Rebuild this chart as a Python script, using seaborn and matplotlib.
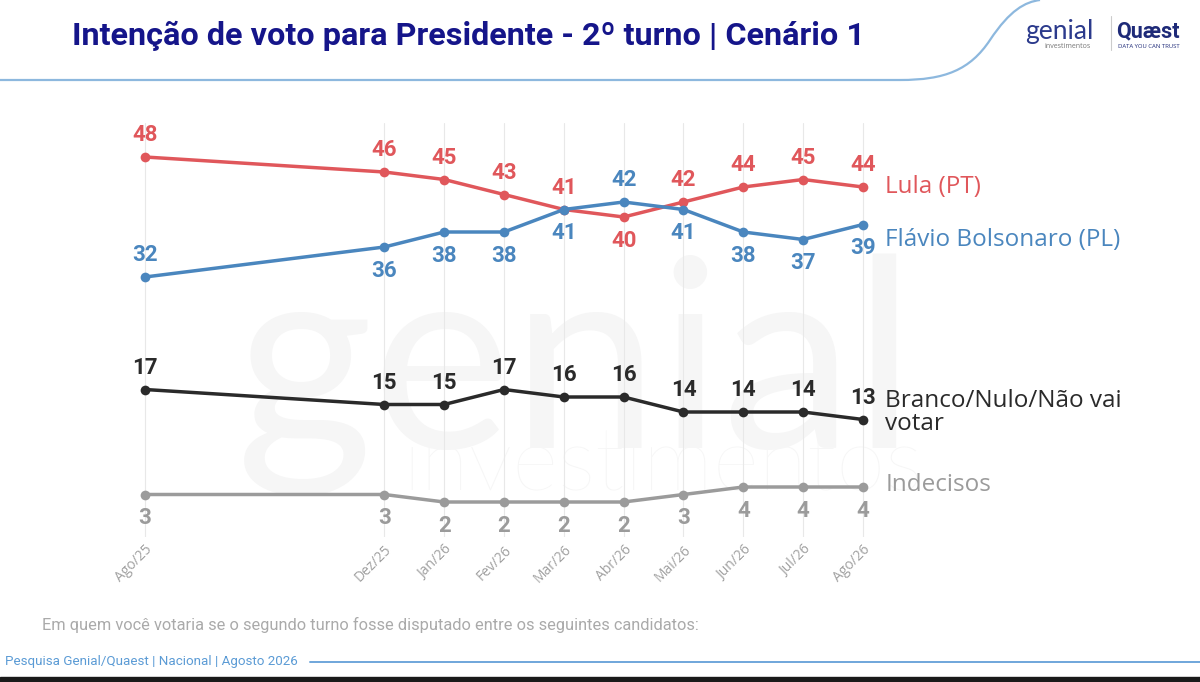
import numpy as np
import pandas as pd
import matplotlib.pyplot as plt
import seaborn as sns
from matplotlib.path import Path
from matplotlib.patches import PathPatch, Rectangle

# dados
meses = ['Ago/25', 'Dez/25', 'Jan/26', 'Fev/26', 'Mar/26', 'Abr/26',
         'Mai/26', 'Jun/26', 'Jul/26', 'Ago/26']
posicao = [0, 4, 5, 6, 7, 8, 9, 10, 11, 12]  # meses desde Ago/25
lula = [48, 46, 45, 43, 41, 40, 42, 44, 45, 44]
flavio = [32, 36, 38, 38, 41, 42, 41, 38, 37, 39]
branco = [17, 15, 15, 17, 16, 16, 14, 14, 14, 13]
indecisos = [3, 3, 2, 2, 2, 2, 3, 4, 4, 4]

series = ['Lula', 'Flavio', 'Branco', 'Indecisos']
nomes = ['Lula (PT)', 'Flávio Bolsonaro (PL)', 'Branco/Nulo/Não vai\nvotar', 'Indecisos']
cores = {'Lula': '#E0575B', 'Flavio': '#4A86BE', 'Branco': '#2A2A2A', 'Indecisos': '#9B9B9B'}

df = pd.DataFrame({
    'mes': meses * 4,
    'pos': posicao * 4,
    'valor': lula + flavio + branco + indecisos,
    'serie': np.repeat(series, len(meses)),
})

sns.set_style('white')
plt.rcParams['font.family'] = ['Open Sans', 'DejaVu Sans']

fig = plt.figure(figsize=(12, 6.82), dpi=100)

# camada de fundo em pixels (cabeçalho, marca d'água, rodapé)
bg = fig.add_axes([0, 0, 1, 1], zorder=0)
bg.set_xlim(0, 1200)
bg.set_ylim(682, 0)
bg.axis('off')

bg.text(236, 448, 'genial', fontsize=190, color='#F6F6F6', family='Lato',
        va='baseline', ha='left')
bg.text(402, 490, 'investimentos', fontsize=64, color='#F6F6F6', family='Lato',
        va='baseline', ha='left', fontweight='light')

bg.text(72, 36, 'Intenção de voto para Presidente - 2º turno | Cenário 1',
        fontsize=23.3, fontweight='bold', color='#15158A', family='Roboto',
        va='center', ha='left')

verts = [(0, 80), (900, 80), (945, 80), (970, 70), (990, 40), (1010, 10), (1025, 2), (1040, 0)]
codes = [Path.MOVETO, Path.LINETO, Path.CURVE4, Path.CURVE4, Path.CURVE4,
         Path.CURVE4, Path.CURVE4, Path.CURVE4]
bg.add_patch(PathPatch(Path(verts, codes), fill=False, edgecolor='#8DB8DE', lw=1.6))

bg.text(1025, 31, 'genial', fontsize=19, color='#2B3A8C', family='Lato', va='center', ha='left')
bg.text(1044, 46, 'investimentos', fontsize=5, color='#777777', va='center', ha='left')
bg.plot([1111, 1111], [16, 50], color='#CCCCCC', lw=0.8)
bg.text(1116, 31, 'Quæst', fontsize=15.5, color='#1E2A78', fontweight='bold',
        family='Roboto', va='center', ha='left')
bg.text(1118, 46, 'DATA YOU CAN TRUST', fontsize=4.3, color='#1E2A78', va='center', ha='left')

bg.text(42, 625, 'Em quem você votaria se o segundo turno fosse disputado entre os seguintes candidatos:',
        fontsize=11.8, color='#AAAAAA', family='Roboto', va='center', ha='left')
bg.text(5, 662, 'Pesquisa Genial/Quaest | Nacional | Agosto 2026', fontsize=9.6,
        color='#5B9BD5', family='Roboto', va='center', ha='left')
bg.plot([310, 1200], [662, 662], color='#6FA6DA', lw=1.4)
bg.add_patch(Rectangle((0, 677), 1200, 6, color='#1A1A1A'))

# gráfico principal
ax = fig.add_axes([100 / 1200, 145 / 682, 1080 / 1200, 414 / 682], zorder=1)
ax.set_facecolor('none')
sns.lineplot(data=df, x='pos', y='valor', hue='serie', hue_order=series,
             palette=cores, marker='o', markersize=7, markeredgewidth=0,
             linewidth=2.5, legend=False, ax=ax, clip_on=False)

px = 59.83  # pixels por mês
ax.set_xlim(-45 / px, 12 + 317 / px)
ax.set_ylim(48 - (537 - 157) / 7.5, 48 + 34 / 7.5)

ax.set_xticks(posicao)
ax.set_xticklabels(meses, rotation=45, ha='right', va='top', rotation_mode='anchor',
                   color='#A0A0A0', fontsize=10)
ax.tick_params(axis='x', length=0, pad=4)
ax.set_yticks([])
ax.grid(axis='x', color='#E8E8E8', lw=0.8)
ax.grid(axis='y', visible=False)
ax.set_xlabel('')
ax.set_ylabel('')
for s in ax.spines.values():
    s.set_visible(False)

# rótulos de valor
flavio_acima = [True, False, False, False, False, True, False, False, False, False]
rotulos = {
    'Lula': [v >= f for v, f in zip(lula, flavio)],
    'Flavio': flavio_acima,
    'Branco': [True] * len(meses),
    'Indecisos': [False] * len(meses),
}
valores = {'Lula': lula, 'Flavio': flavio, 'Branco': branco, 'Indecisos': indecisos}
for s in series:
    for x, v, acima in zip(posicao, valores[s], rotulos[s]):
        ax.annotate(str(v), (x, v), xytext=(0, 15.5 if acima else -17),
                    textcoords='offset points', ha='center', va='center',
                    fontsize=16, fontweight='bold', color=cores[s], family='Roboto')

# nomes das séries à direita
desloc = {'Lula': 0, 'Flavio': -11.5, 'Branco': 5, 'Indecisos': 1.5}
for s, nome in zip(series, nomes):
    ax.annotate(nome, (posicao[-1], valores[s][-1]), xytext=(16, desloc[s]),
                textcoords='offset points', ha='left', va='center',
                fontsize=17.5, color=cores[s], linespacing=0.95)

fig.savefig('out.png', dpi=100)
